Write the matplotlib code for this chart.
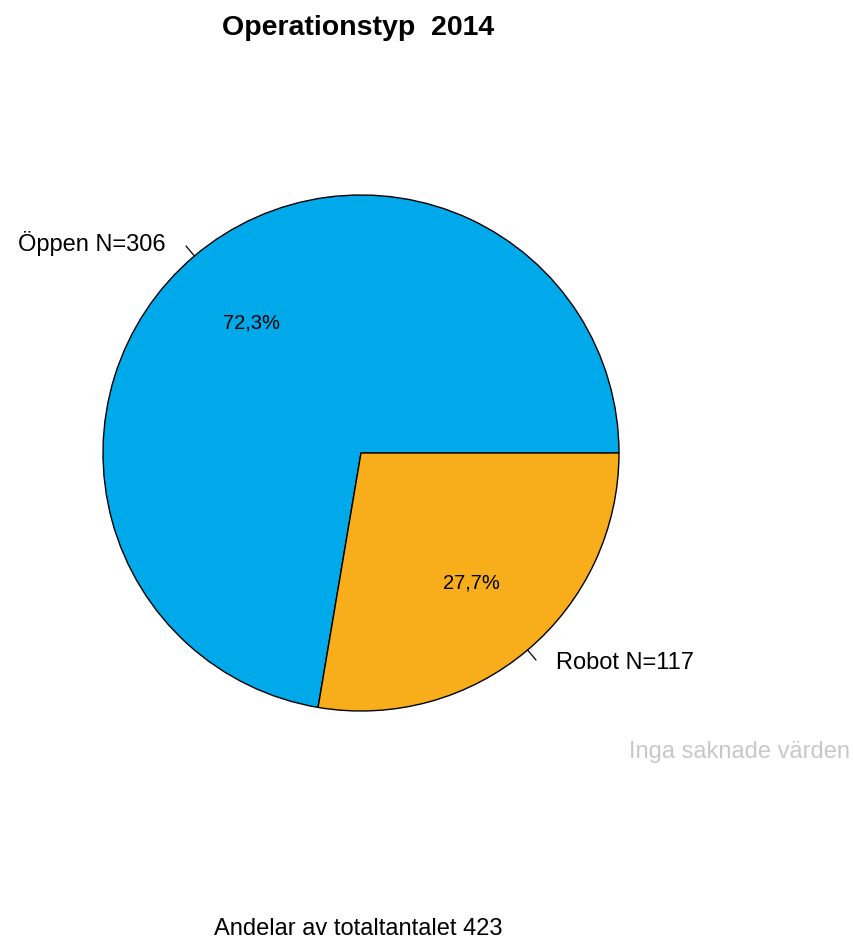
import matplotlib.pyplot as plt
import numpy as np

# ---------------------------------------------------------------------------
# DATA
# ---------------------------------------------------------------------------
kategorier = ["Öppen", "Robot"]
antal = [306, 117]
farger = ["#00A9E9", "#F8AD1B"]
titel = "Operationstyp  2014"
saknade = "Inga saknade värden"

total = sum(antal)
andelar = [a / total * 100 for a in antal]

plt.rcParams['font.family'] = ['Liberation Sans', 'DejaVu Sans']

W, H = 854, 942
fig = plt.figure(figsize=(W / 100, H / 100), dpi=100)
ax = fig.add_axes([0, 0, 1, 1])

# pie geometry in pixel units
cx, cy, r = 361, H - 453, 258

wedges, _ = ax.pie(antal, colors=farger, startangle=0, counterclock=True,
                   center=(cx, cy), radius=r, frame=True,
                   wedgeprops=dict(edgecolor="black", linewidth=1))
ax.set_xlim(0, W)
ax.set_ylim(0, H)
ax.axis("off")

start = 0.0
for kat, n, p in zip(kategorier, antal, andelar):
    mid = np.deg2rad(start + p * 3.6 / 2)
    c, s = np.cos(mid), np.sin(mid)
    # tick mark from the rim out
    ax.plot([cx + r * c, cx + 1.05 * r * c], [cy + r * s, cy + 1.05 * r * s],
            color="black", lw=0.9)
    ha = "right" if c < 0 else "left"
    ax.annotate(f"{kat} N={n}", (cx + 1.1 * r * c, cy + 1.1 * r * s),
                xytext=(12 * np.sign(c), -7 * np.sign(s)), textcoords="offset pixels",
                ha=ha, va="center", fontsize=17)
    # percentage inside the slice
    ax.text(cx + 0.66 * r * c, cy + 0.66 * r * s, f"{p:.1f}%".replace(".", ","),
            ha="center", va="center", fontsize=14.5)
    start += p * 3.6

fig.text(358 / W, 1 - 28 / H, titel, ha="center", va="center",
         fontsize=20.5, fontweight="bold")
fig.text(850 / W, 1 - 752 / H, saknade, ha="right", va="center",
         fontsize=17, color="#C8C8C8")
fig.text(358 / W, 1 - 929 / H, f"Andelar av totaltantalet {total}",
         ha="center", va="center", fontsize=17)

plt.savefig("out.png", dpi=100)
